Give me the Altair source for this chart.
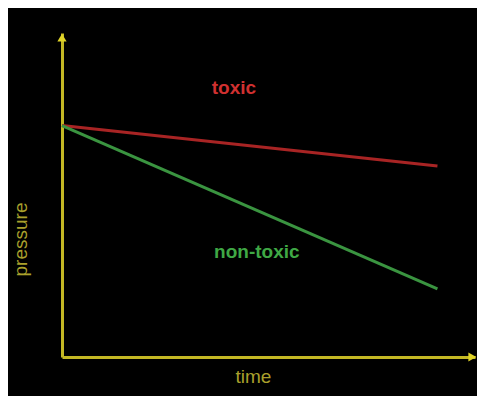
import altair as alt
import pandas as pd

# data
series = ["toxic", "toxic", "non-toxic", "non-toxic"]
time_vals = [0, 10, 0, 10]
pressure_vals = [10, 8.25, 10, 2.94]

label_text = ["toxic", "non-toxic"]
label_time = [4.58, 5.19]
label_pressure = [11.62, 4.54]

series_names = ["toxic", "non-toxic"]
line_colors = ["#a82424", "#3a9440"]
text_colors = ["#d03030", "#3fa845"]

AXIS = "#c4b824"
TITLE = "#aaa02c"
FONT = "Liberation Sans"

lines_df = pd.DataFrame({"series": series, "time": time_vals, "pressure": pressure_vals})
labels_df = pd.DataFrame({"series": label_text, "time": label_time, "pressure": label_pressure})
arrows_df = pd.DataFrame({"time": [0, 10.93], "pressure": [13.8, 0], "shape": ["triangle-up", "triangle-right"]})

xs = alt.Scale(domain=[0, 11], nice=False, zero=False)
ys = alt.Scale(domain=[0, 14], nice=False, zero=False)

x_axis = alt.Axis(domainColor=AXIS, domainWidth=3, ticks=False, labels=False, grid=False,
                  title="time", titleColor=TITLE, titleFont=FONT, titleFontSize=19,
                  titleFontWeight="normal", titleX=191, titleY=25, titleBaseline="alphabetic",
                  titleAlign="center")
y_axis = alt.Axis(domainColor=AXIS, domainWidth=3, ticks=False, labels=False, grid=False,
                  title="pressure", titleColor=TITLE, titleFont=FONT, titleFontSize=19,
                  titleFontWeight="normal", titleX=-36, titleY=206, titleBaseline="alphabetic",
                  titleAlign="center", titleAngle=270)

lines = alt.Chart(lines_df).mark_line(strokeWidth=3).encode(
    x=alt.X("time:Q", scale=xs, axis=x_axis),
    y=alt.Y("pressure:Q", scale=ys, axis=y_axis),
    color=alt.Color("series:N", scale=alt.Scale(domain=series_names, range=line_colors), legend=None),
    detail="series:N",
)

labels = alt.Chart(labels_df).mark_text(font=FONT, fontSize=19, fontWeight="bold", baseline="middle", align="center").encode(
    x=alt.X("time:Q", scale=xs),
    y=alt.Y("pressure:Q", scale=ys),
    text="series:N",
    color=alt.Color("series:N", scale=alt.Scale(domain=series_names, range=text_colors), legend=None),
)

arrows = alt.Chart(arrows_df).mark_point(filled=True, size=85, opacity=1, color="#e0d428").encode(
    x=alt.X("time:Q", scale=xs),
    y=alt.Y("pressure:Q", scale=ys),
    shape=alt.Shape("shape:N", scale=None, legend=None),
)

chart = alt.layer(lines, labels, arrows).resolve_scale(color="independent").properties(
    width=413, height=324, background="black",
    padding={"left": 54, "top": 25, "right": 2, "bottom": 39},
    autosize=alt.AutoSizeParams(type="none"),
).configure_view(strokeWidth=0)

chart.save("out.html", embed_options={"renderer": "svg", "actions": False})
